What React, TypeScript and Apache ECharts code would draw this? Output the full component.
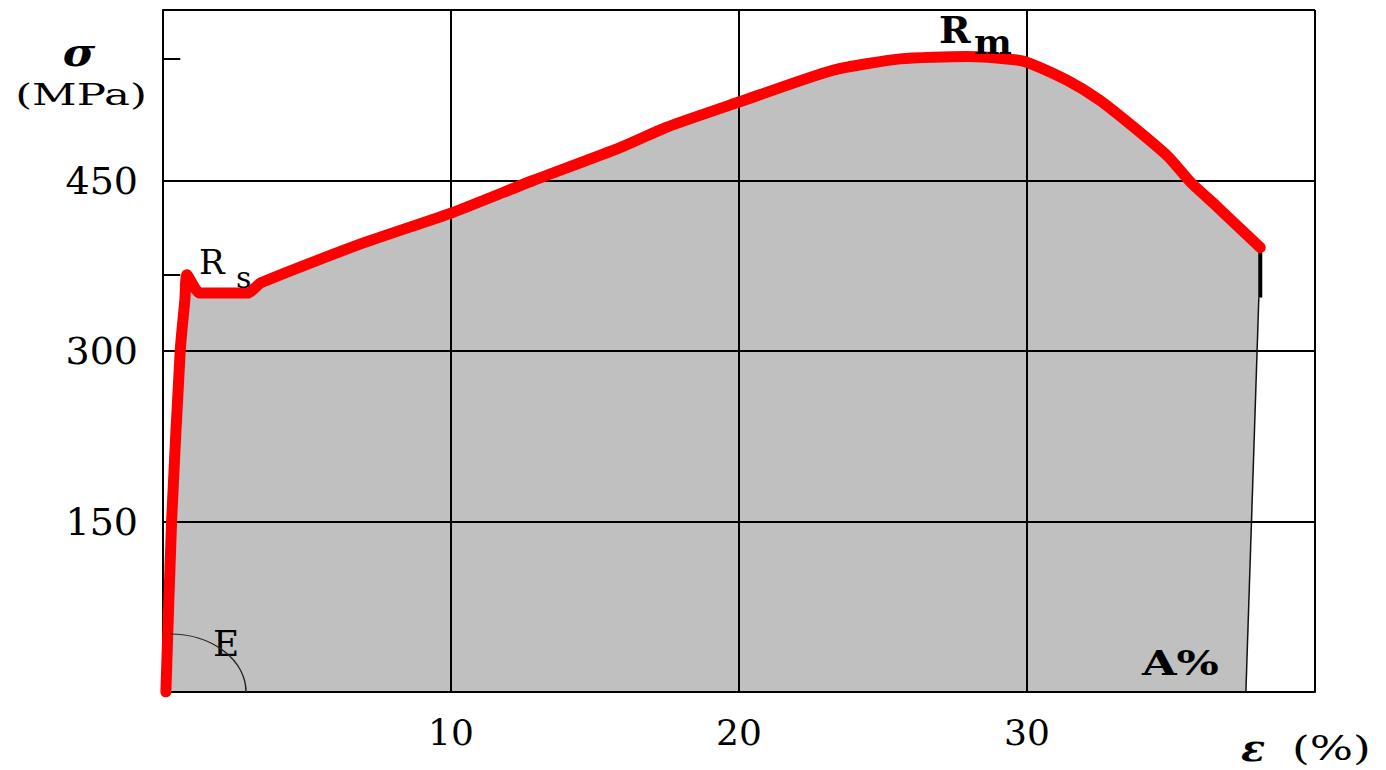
import React, { useEffect, useRef } from "react";
import * as echarts from "echarts";

// Stress–strain curve (ε in %, σ in MPa)
const strain = [0.1, 0.3, 0.6, 0.76, 0.83, 1.28, 2.95, 3.4, 6.84, 10.07, 12.85, 15.87, 17.5, 20.0, 23.26, 25.6, 27.9, 29.65, 30.1, 31.4, 32.5, 33.7, 34.9, 35.7, 36.6, 38.1];
const stress = [0, 151, 301, 345, 367, 351, 351, 360, 394, 422, 450, 479, 497, 519, 547, 557, 559, 556, 553, 538, 521, 497, 471, 448, 427, 391];
// Unloading after fracture
const unloadStrain = [38.1, 38.1, 38.05, 37.6];
const unloadStress = [391, 347, 347, 0];
// Axis ticks
const xTicks = [10, 20, 30];
const yTicks = [150, 300, 450];
// Reference marks on the stress axis (Rs, Rm)
const refLevels = [367, 557];

const FONT = "DejaVu Serif";

export default function App() {
  const ref = useRef<HTMLDivElement>(null);
  useEffect(() => {
    const chart = echarts.init(ref.current!, null, { renderer: "svg" });
    const curve = strain.map((x, i) => [x, stress[i]]);
    const unload = unloadStrain.map((x, i) => [x, unloadStress[i]]);
    const area = [...curve, ...unload.slice(1)];
    const txt = (text: string, x: number, y: number, font: string, scaleX = 1, align = "left") => ({
      type: "text",
      x,
      y,
      scaleX,
      z: 10,
      style: { text, font, fill: "#000", align, verticalAlign: "middle" },
    });
    chart.setOption({
      animation: false,
      backgroundColor: "#fff",
      grid: { left: 163, right: 71, top: 10, bottom: 78, containLabel: false },
      xAxis: {
        type: "value",
        min: 0,
        max: 40,
        interval: 10,
        z: 3,
        axisLine: { show: true, lineStyle: { color: "#000", width: 2 } },
        axisTick: { show: false },
        splitLine: { show: true, lineStyle: { color: "#000", width: 2 } },
        axisLabel: {
          margin: 22,
          fontFamily: FONT,
          fontSize: 36,
          color: "#000",
          formatter: (v: number) => (xTicks.includes(v) ? String(v) : ""),
        },
      },
      yAxis: {
        type: "value",
        min: 0,
        max: 600,
        interval: 150,
        z: 3,
        axisLine: { show: true, lineStyle: { color: "#000", width: 2 } },
        axisTick: { show: false },
        splitLine: { show: true, lineStyle: { color: "#000", width: 2 } },
        axisLabel: {
          margin: 25,
          fontFamily: FONT,
          fontSize: 38,
          color: "#000",
          formatter: (v: number) => (yTicks.includes(v) ? String(v) : ""),
        },
      },
      series: [
        {
          // grey area under the curve, closed by the unloading line
          type: "line",
          z: 1,
          data: area,
          symbol: "none",
          lineStyle: { width: 0, opacity: 0 },
          areaStyle: { color: "#c0c0c0", opacity: 1 },
          silent: true,
        },
        {
          type: "line",
          z: 5,
          data: curve,
          smooth: 0.2,
          symbol: "none",
          lineStyle: { color: "#ff0000", width: 11, join: "round", cap: "round" },
          markLine: {
            silent: true,
            symbol: "none",
            label: { show: false },
            lineStyle: { color: "#000", width: 2, type: "solid" },
            data: refLevels.map((v) => [{ coord: [0, v] }, { coord: [0.6, v] }]),
          },
        },
        {
          type: "line",
          z: 4,
          data: unload.slice(0, 2),
          symbol: "none",
          lineStyle: { color: "#000", width: 4 },
        },
        {
          type: "line",
          z: 4,
          data: unload.slice(2),
          symbol: "none",
          lineStyle: { color: "#111", width: 1.5 },
        },
      ],
      graphic: [
        txt("σ", 79, 52, `bold italic 40px "${FONT}"`, 1.1, "center"),
        txt("(MPa)", 81, 95, `30px "${FONT}"`, 1.45, "center"),
        txt("R", 199, 262, `34px "${FONT}"`),
        txt("s", 236, 277, `30px "${FONT}"`),
        txt("R", 939, 29, `bold 38px "${FONT}"`),
        txt("m", 974, 42, `bold 34px "${FONT}"`, 1.05),
        txt("E", 213, 643, `36px "${FONT}"`),
        txt("A%", 1142, 663, `bold 33px "${FONT}"`, 1.35),
        txt("ε", 1241, 748, `bold italic 36px "${FONT}"`, 1.1),
        txt("(%)", 1292, 748, `34px "${FONT}"`, 1.34),
        {
          type: "arc",
          x: 170,
          y: 692,
          scaleY: 58 / 76,
          z: 10,
          shape: { cx: 0, cy: 0, r: 76, startAngle: -Math.PI / 2, endAngle: 0, clockwise: true },
          style: { stroke: "#222", lineWidth: 1.5, fill: "none" },
        },
      ],
    });
    return () => chart.dispose();
  }, []);
  return (
    <div
      ref={ref}
      style={{ position: "fixed", left: 0, top: 0, width: 1386, height: 770, background: "#fff" }}
    />
  );
}
